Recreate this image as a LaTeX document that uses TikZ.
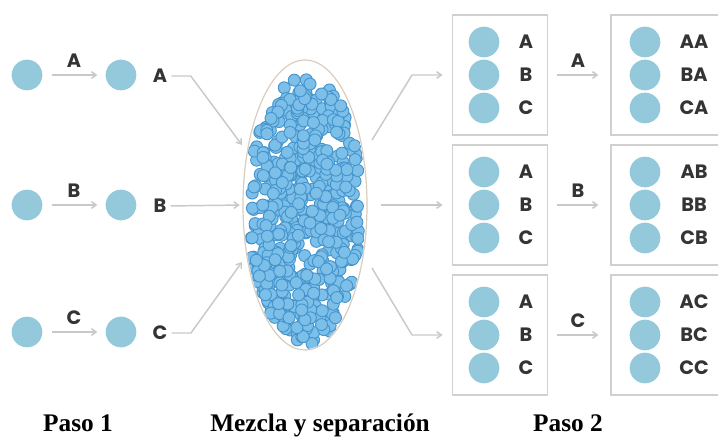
\documentclass[tikz,border=0pt]{standalone}
\usepackage{fontspec}
\setmainfont{Liberation Serif}
\newfontfamily\lblfont{Poppins}
\usetikzlibrary{arrows.meta,shapes.geometric}

\definecolor{dotblue}{HTML}{93C9DA}
\definecolor{molfill}{HTML}{7CC0EA}
\definecolor{moledge}{HTML}{4694CC}
\definecolor{linegray}{HTML}{C9C9C9}
\definecolor{boxgray}{HTML}{D0D0D0}
\definecolor{rimtan}{HTML}{D8CDBE}
\definecolor{inkgray}{HTML}{343434}

\tikzset{
  dot/.style={circle, fill=dotblue, minimum size=23pt, inner sep=0pt},
  lbl/.style={font=\lblfont\bfseries\fontsize{14.5}{14.5}\selectfont, text=inkgray, inner sep=1pt},
  caption/.style={font=\bfseries\fontsize{19}{19}\selectfont, text=black, anchor=base},
  link/.style={draw=linegray, line width=1.1pt, line join=round,
               -{Straight Barb[length=3.5pt,width=5pt]}},
  panel/.style={draw=boxgray, line width=0.9pt, rectangle, inner sep=0pt},
  mol/.style={fill=molfill, draw=moledge, line width=0.7pt},
}

\begin{document}
\begin{tikzpicture}[x=0.75pt, y=-0.75pt]
\useasboundingbox (0,0) rectangle (718,436);

% ---- step 1: single units and their first label ----
\foreach \n/\y in {A/75, B/205, C/332}{
  \node[dot] (s\n) at (27,\y) {};
  \node[dot] (t\n) at (121,\y) {};
  \node[lbl] (k\n) at (74,\y-14) {\n};
  \node[lbl] (e\n) at (160,\y+1) {\n};
  \draw[link, shorten <=7pt, shorten >=6pt] (s\n) -- (t\n);
}

% ---- mixing vessel (124 x 290 units) ----
\node[ellipse, draw=rimtan, line width=0.9pt, minimum width=93pt, minimum height=217.5pt, inner sep=0pt]
  (mix) at (305,205) {};
\begin{scope}
  \clip (305,205) ellipse [x radius=61, y radius=144];
  \pgfmathsetseed{2718}
  \foreach \i in {1,...,540}{
    \pgfmathsetmacro\t{360*rnd}
    \pgfmathsetmacro\r{sqrt(rnd)}
    \path[mol] ({305+57*\r*cos(\t)},{210+135*\r*sin(\t)}) circle[radius=6];
  }
\end{scope}

% inputs into the vessel
\coordinate (inA) at (242,145);
\coordinate (inC) at (242,262);
\draw[link, shorten <=2pt] (eA.east) -- ++(22,0) -- (inA);
\draw[link, shorten <=2pt, shorten >=2pt] (eB.east) -- (mix.west);
\draw[link, shorten <=2pt] (eC.east) -- ++(22,0) -- (inC);

% ---- step 2: sorted panels (95 x 120 units) and coupled panels (108 x 120 units) ----
\foreach \n/\y in {A/75, B/205, C/335}{
  \node[panel, minimum width=71.25pt, minimum height=90pt] (p\n) at (500,\y) {};
  \node[panel, minimum width=81pt, minimum height=90pt] (q\n) at (665,\y) {};
  \foreach \m/\dy in {A/-33, B/0, C/33}{
    \node[dot] (p\n\m) at (484,\y+\dy) {};
    \node[lbl] at (526,\y+\dy) {\m};
    \node[dot] (q\n\m) at (645,\y+\dy) {};
    \node[lbl] at (694,\y+\dy) {\m\n};
  }
  \node[lbl] (r\n) at (578,\y-14) {\n};
  \draw[link, shorten <=7pt, shorten >=9pt] (p\n.east) -- (q\n.west);
}

% outputs from the vessel
\coordinate (outA) at (372,140);
\coordinate (outC) at (372,268);
\draw[link, shorten >=7pt] (outA) -- (412,75) -- (pA.west);
\draw[link, shorten <=10pt, shorten >=7pt] (mix.east) -- (pB.west);
\draw[link, shorten >=7pt] (outC) -- (412,335) -- (pC.west);

% ---- captions ----
\node[caption] (c1) at (78,431) {Paso 1};
\node[caption] (c2) at (320,431) {Mezcla y separación};
\node[caption] (c3) at (568,431) {Paso 2};
\end{tikzpicture}
\end{document}
